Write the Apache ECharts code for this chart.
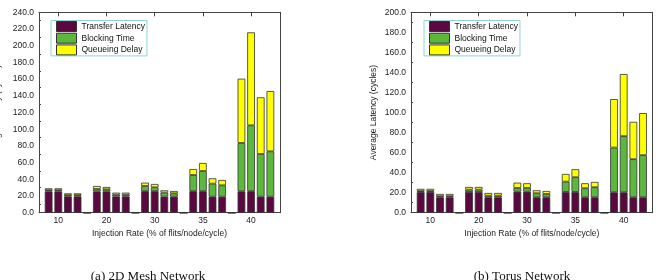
<!DOCTYPE html>
<html>
<head>
<meta charset="utf-8">
<script src="https://cdn.jsdelivr.net/npm/echarts@6/dist/echarts.min.js"></script>
<style>
  html, body { margin: 0; padding: 0; background: #fff; }
  #chart { width: 658px; height: 280px; }
</style>
</head>
<body>
<div id="chart"></div>
<script>
const rates = ['10', '20', '30', '35', '40']
const seriesNames = ['Transfer Latency', 'Blocking Time', 'Queueing Delay']

// (a) 2D mesh: four bars per injection rate, stacked segments
const meshTransfer = [25.5, 25.5, 19.5, 19.5, 25.5, 25.5, 19.5, 19.5, 25.8, 25.8, 19.2, 19.2, 25.8, 25.8, 19.2, 19.2, 25.6, 25.8, 19.2, 19.2]
const meshBlocking = [1.5, 1.5, 1.5, 1.5, 2.9, 2.5, 2, 2, 6.2, 4.6, 4.8, 4, 19.3, 24.1, 15.6, 13.6, 57.9, 78.8, 51.1, 54.3]
const meshQueueing = [2.2, 2.2, 2.2, 2.2, 3.6, 2.8, 2.5, 2.5, 4, 4, 2.8, 2.8, 7.2, 9.6, 6.4, 6.4, 77, 111.4, 67.9, 72.2]

// (b) torus
const torusTransfer = [20.6, 20.6, 15.4, 15.4, 20.7, 20.7, 15.4, 15.4, 21, 21, 15.4, 15.4, 20.7, 20.7, 15.4, 15.4, 20.4, 20.4, 15.4, 15.4]
const torusBlocking = [1, 1, 1.1, 1.1, 2.3, 2.3, 1.6, 1.6, 3.7, 3.7, 4, 3.3, 10.3, 14.7, 9, 10, 44.6, 56, 38, 42]
const torusQueueing = [2.2, 2.2, 2.2, 2.2, 2.7, 2.7, 2.7, 2.7, 5.3, 4.7, 3, 3, 7.7, 8, 5, 5.3, 48.4, 62, 37.3, 42]

const meshYMax = 240
const torusYMax = 200
const yStep = 20

const captions = ['(a) 2D Mesh Network', '(b) Torus Network']

const colors = ['#5c0840', '#5cb83c', '#ffff00']
const font = '"Liberation Sans", Arial, sans-serif'

// slot 0 is the left pad, then 4 bars + 1 empty slot per rate
const slotCount = rates.length * 5 + 1
const slotLabels = []
for (let i = 0; i < slotCount; i++) slotLabels.push('')
rates.forEach((r, g) => { slotLabels[1 + g * 5 + 1] = r })

function toSlots(values) {
  const out = new Array(slotCount).fill(null)
  values.forEach((v, i) => {
    out[1 + Math.floor(i / 4) * 5 + (i % 4)] = v
  })
  for (let g = 0; g < rates.length - 1; g++) out[1 + g * 5 + 4] = 0
  return out
}

const frame = { onZero: false, lineStyle: { color: '#444', width: 1 } }
const isLabelled = (i) => slotLabels[i] !== ''

function xAxes(gridIndex) {
  return [
    {
      type: 'category', gridIndex, data: slotLabels, boundaryGap: false,
      axisLine: frame,
      axisTick: { inside: true, length: 4, interval: isLabelled, lineStyle: { color: '#444' } },
      axisLabel: { interval: isLabelled, fontSize: 8.5, color: '#222', fontFamily: font, margin: 3 },
      splitLine: { show: false },
      name: 'Injection Rate (% of flits/node/cycle)',
      nameLocation: 'middle', nameGap: 14,
      nameTextStyle: { fontSize: 8.5, color: '#222', fontFamily: font },
    },
    {
      type: 'category', gridIndex, data: slotLabels, boundaryGap: false, position: 'top',
      axisLine: frame,
      axisTick: { inside: true, length: 4, interval: isLabelled, lineStyle: { color: '#444' } },
      axisLabel: { show: false },
      splitLine: { show: false },
    },
  ]
}

function yAxes(gridIndex, max, nameGap) {
  return [
    {
      type: 'value', gridIndex, min: 0, max, interval: yStep,
      axisLine: { show: true, ...frame },
      axisTick: { inside: true, length: 4, lineStyle: { color: '#444' } },
      minorTick: { show: true, splitNumber: 2, length: 2, lineStyle: { color: '#444' } },
      axisLabel: { formatter: (v) => v.toFixed(1), fontSize: 8.5, color: '#222', fontFamily: font, margin: 5 },
      splitLine: { show: false },
      name: 'Average Latency (cycles)',
      nameLocation: 'middle', nameGap,
      nameTextStyle: { fontSize: 8.5, color: '#222', fontFamily: font },
    },
    {
      type: 'value', gridIndex, min: 0, max, interval: yStep / 2, position: 'right',
      axisLine: { show: true, ...frame },
      axisTick: { inside: true, length: 3, lineStyle: { color: '#444' } },
      axisLabel: { show: false },
      splitLine: { show: false },
    },
  ]
}

function legend(left) {
  return {
    left, top: 20.5, orient: 'vertical', data: seriesNames, icon: 'rect',
    itemWidth: 20, itemHeight: 10, itemGap: 0.7,
    padding: [0.5, 2, 0.5, 5],
    borderColor: '#8fd3d3', borderWidth: 1,
    selectedMode: false,
    itemStyle: { borderColor: '#333', borderWidth: 1 },
    textStyle: { fontSize: 8.5, color: '#111', fontFamily: font },
  }
}

function bars(stack, axisIndex, segments) {
  return segments.map((values, k) => ({
    name: seriesNames[k], type: 'bar', stack,
    xAxisIndex: axisIndex, yAxisIndex: axisIndex,
    data: toSlots(values), barWidth: '80%',
    itemStyle: { color: colors[k], borderColor: '#333', borderWidth: 0.8 },
    emphasis: { disabled: true },
  }))
}

const chart = echarts.init(document.getElementById('chart'), null, { renderer: 'canvas' })

chart.setOption({
  animation: false,
  grid: [
    { left: 39, right: 378, top: 12.3, bottom: 67.3, outerBoundsMode: 'none' },
    { left: 411, right: 5.3, top: 12.3, bottom: 67.3, outerBoundsMode: 'none' },
  ],
  xAxis: [...xAxes(0), ...xAxes(1)],
  yAxis: [...yAxes(0, meshYMax, 37), ...yAxes(1, torusYMax, 33)],
  legend: [legend(51), legend(424)],
  series: [
    ...bars('mesh', 0, [meshTransfer, meshBlocking, meshQueueing]),
    ...bars('torus', 2, [torusTransfer, torusBlocking, torusQueueing]),
  ],
  graphic: [
    {
      type: 'text', x: 148, y: 270.5,
      style: { text: captions[0], font: '13px "Liberation Serif", serif', fill: '#111', textAlign: 'center', textVerticalAlign: 'top' },
    },
    {
      type: 'text', x: 522, y: 270.5,
      style: { text: captions[1], font: '13px "Liberation Serif", serif', fill: '#111', textAlign: 'center', textVerticalAlign: 'top' },
    },
  ],
})
</script>
</body>
</html>
